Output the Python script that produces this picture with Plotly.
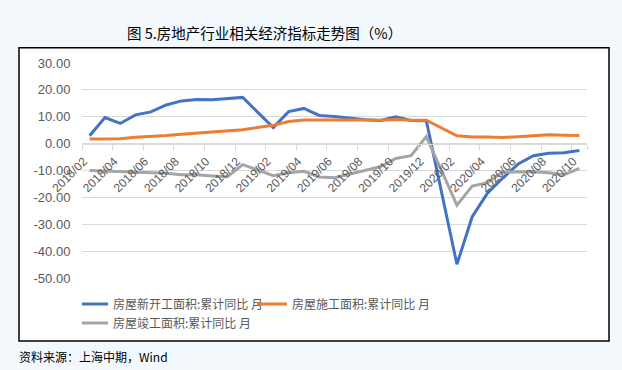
import plotly.graph_objects as go

# ---- data ----
months = ["2018/02", "2018/03", "2018/04", "2018/05", "2018/06", "2018/07", "2018/08",
          "2018/09", "2018/10", "2018/11", "2018/12",
          "2019/01", "2019/02", "2019/03", "2019/04", "2019/05", "2019/06", "2019/07",
          "2019/08", "2019/09", "2019/10", "2019/11", "2019/12",
          "2020/01", "2020/02", "2020/03", "2020/04", "2020/05", "2020/06", "2020/07",
          "2020/08", "2020/09", "2020/10"]
new_start = [2.9, 9.7, 7.5, 10.7, 11.8, 14.4, 15.9, 16.4, 16.3, 16.8, 17.2,
             None, 6.0, 11.9, 13.1, 10.5, 10.1, 9.5, 8.9, 8.6, 10.0, 8.6, 8.5,
             None, -44.9, -27.2, -18.4, -12.8, -7.6, -4.5, -3.6, -3.4, -2.6]
under_construction = [1.7, 1.8, 1.8, 2.4, 2.6, 3.0, 3.5, 3.9, 4.3, 4.7, 5.2,
                      None, 6.8, 8.2, 8.8, 8.8, 8.8, 9.0, 8.8, 8.7, 9.0, 8.7, 8.7,
                      None, 2.9, 2.5, 2.5, 2.3, 2.6, 3.0, 3.3, 3.1, 3.0]
completed = [-10.0, -10.2, -10.3, -10.5, -10.6, -11.0, -11.6, -11.6, -12.0, -12.3, -7.8,
             None, -11.9, -10.8, -10.3, -12.4, -12.7, -11.3, -10.0, -8.6, -5.5, -4.5, 2.6,
             None, -22.9, -15.8, -14.5, -10.6, -10.5, -10.5, -10.8, -11.6, -9.2]
series_names = ["房屋新开工面积:累计同比 月", "房屋施工面积:累计同比 月", "房屋竣工面积:累计同比 月"]
y_ticks = [30, 20, 10, 0, -10, -20, -30, -40, -50]
y_tick_text = ["30.00", "20.00", "10.00", "0.00", "-10.00", "-20.00", "-30.00", "-40.00", "-50.00"]
x_tick_vals = months[::2]

title_text = "图 5.房地产行业相关经济指标走势图（%）"
source_text = "资料来源：上海中期，Wind"

# ---- geometry ----
W, H = 622, 370
ML, MR, MT, MB = 82, 35, 63.3, 91.5
PW, PH = W - ML - MR, H - MT - MB
BG = "#F3F8FD"


def px_x(x):
    return (x - ML) / PW


def px_y(y):
    return (H - MB - y) / PH


colors = ["#4472C4", "#ED7D31", "#A5A5A5"]
CJK = "Noto Sans CJK SC"

fig = go.Figure()
for vals, name, col in zip([new_start, under_construction, completed], series_names, colors):
    fig.add_trace(go.Scatter(x=months, y=vals, name=name, mode="lines",
                             connectgaps=True,
                             line=dict(color=col, width=3)))

ymin, ymax = -50, 30
fig.update_layout(
    width=W, height=H,
    margin=dict(l=ML, r=MR, t=MT, b=MB, pad=0),
    paper_bgcolor=BG,
    plot_bgcolor="white",
    showlegend=True,
    legend=dict(orientation="h", x=0, xanchor="left", y=px_y(290), yanchor="top",
                font=dict(family=CJK, size=12, color="#595959"),
                entrywidth=143, entrywidthmode="pixels", indentation=-9,
                bgcolor="rgba(0,0,0,0)", itemwidth=30),
    xaxis=dict(type="category", range=[-0.5, len(months) - 0.5],
               anchor="free", position=(0 - ymin) / (ymax - ymin),
               tickmode="array", tickvals=x_tick_vals, ticktext=x_tick_vals,
               tickson="boundaries", ticks="outside", ticklen=5, tickcolor="#D9D9D9",
               tickangle=-45, showgrid=False, showline=True, linecolor="#D9D9D9",
               linewidth=1, zeroline=False, ticklabelstandoff=5, ticklabelshift=-6,
               tickfont=dict(family="Liberation Sans", size=12, color="#595959")),
    yaxis=dict(range=[ymin, ymax], tickmode="array", tickvals=y_ticks, ticktext=y_tick_text,
               showgrid=True, gridcolor="#D9D9D9", gridwidth=1, zeroline=False,
               ticks="outside", ticklen=8, tickcolor="rgba(0,0,0,0)",
               tickfont=dict(family="Liberation Sans", size=13, color="#595959")),
    shapes=[dict(type="rect", xref="paper", yref="paper",
                 x0=px_x(19), x1=px_x(609), y0=px_y(341.5), y1=px_y(48),
                 line=dict(color="black", width=1.5), fillcolor="white", layer="below")],
    annotations=[
        dict(text=title_text, xref="paper", yref="paper", x=px_x(264), y=px_y(33),
             xanchor="center", yanchor="middle", showarrow=False,
             font=dict(family=CJK, size=14.5, color="black")),
        dict(text=source_text, xref="paper", yref="paper", x=px_x(17), y=px_y(357),
             xanchor="left", yanchor="middle", showarrow=False,
             font=dict(family=CJK, size=12, color="black")),
    ],
)

fig.write_html(
    "out.html",
    config={"displayModeBar": False},
    post_script="document.body.style.margin='0';document.body.style.overflow='hidden';"
                "document.body.style.background='" + BG + "';",
)
